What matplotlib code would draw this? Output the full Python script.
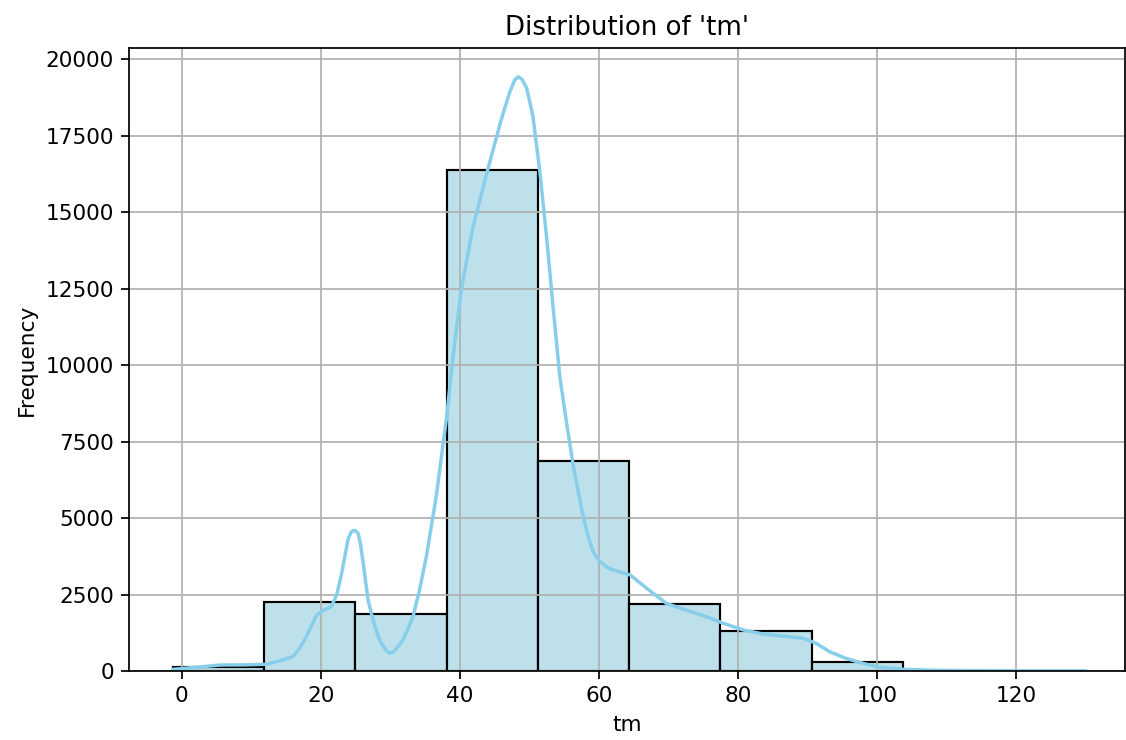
import matplotlib
matplotlib.use("Agg")
import matplotlib.pyplot as plt

# histogram of 'tm' (10 bins), counts
bin_edges = [-1.3, 11.83, 24.96, 38.09, 51.22, 64.35, 77.48, 90.61, 103.74, 116.87, 130.0]
counts = [140, 2260, 1870, 16360, 6850, 2200, 1310, 280, 12, 6]

# kde curve (scaled to counts)
kde_x = [-1.3, 2.0, 5.5, 9.0, 12.2, 14.0, 16.0, 17.0, 17.9, 18.7, 19.4, 20.5, 21.5, 22.3,
         23.0, 23.5, 23.9, 24.3, 24.65, 25.0, 25.37, 25.7, 26.1, 26.8, 27.3, 27.8, 28.4,
         29.0, 29.5, 29.9, 30.4, 30.9, 31.8, 32.5, 33.3, 34.2, 35.2, 36.6, 38.1, 39.0,
         40.2, 41.9, 43.8, 45.8, 46.6, 47.2, 47.9, 48.4, 48.9, 49.6, 50.5, 51.5, 52.5,
         53.4, 54.4, 55.4, 56.3, 57.0, 57.7, 58.4, 59.2, 60.1, 61.1, 62.1, 63.0, 64.5,
         66.9, 69.7, 72.6, 75.5, 77.9, 80.8, 83.6, 86.5, 89.4, 91.3, 93.2, 95.6, 98.0,
         100.4, 103.8, 108.0, 115.0, 122.0, 130.0]
kde_y = [55, 120, 196, 200, 220, 330, 470, 760, 1120, 1500, 1830, 2000, 2100, 2500,
         3190, 3800, 4280, 4520, 4590, 4580, 4500, 4150, 3520, 2320, 1850, 1450, 1050,
         795, 650, 580, 620, 740, 1010, 1350, 1810, 2650, 3760, 5700, 8300, 10240,
         12450, 14520, 16200, 17890, 18500, 18930, 19320, 19420, 19350, 19060, 18150, 16340, 14130,
         11930, 9590, 8040, 6740, 5900, 5100, 4450, 3880, 3600, 3400, 3300, 3240, 3140,
         2700, 2210, 1990, 1770, 1560, 1340, 1210, 1140, 1070, 900, 630, 410, 250,
         120, 55, 25, 12, 8, 5]


def main():
    dpi = 156
    fig = plt.figure(figsize=(1126 / dpi, 740 / dpi), dpi=dpi)
    ax = fig.add_axes([129 / 1126, 69 / 740, 996 / 1126, 623 / 740])

    lefts = bin_edges[:-1]
    widths = [bin_edges[i + 1] - bin_edges[i] for i in range(len(counts))]
    ax.bar(lefts, counts, width=widths, align='edge', facecolor=(0.68, 0.85, 0.9, 0.8),
           edgecolor='black', linewidth=1)
    ax.plot(kde_x, kde_y, color='skyblue', linewidth=1.6, solid_joinstyle='round')

    ax.set_title("Distribution of 'tm'")
    ax.set_xlabel('tm')
    ax.set_ylabel('Frequency')
    ax.set_xticks(range(0, 121, 20))
    ax.set_yticks(range(0, 20001, 2500))
    ax.set_xlim(-7.6, 135.7)
    ax.set_ylim(0, 20360)
    ax.grid(True)

    fig.savefig('out.png', dpi=dpi)


if __name__ == "__main__":
    main()
